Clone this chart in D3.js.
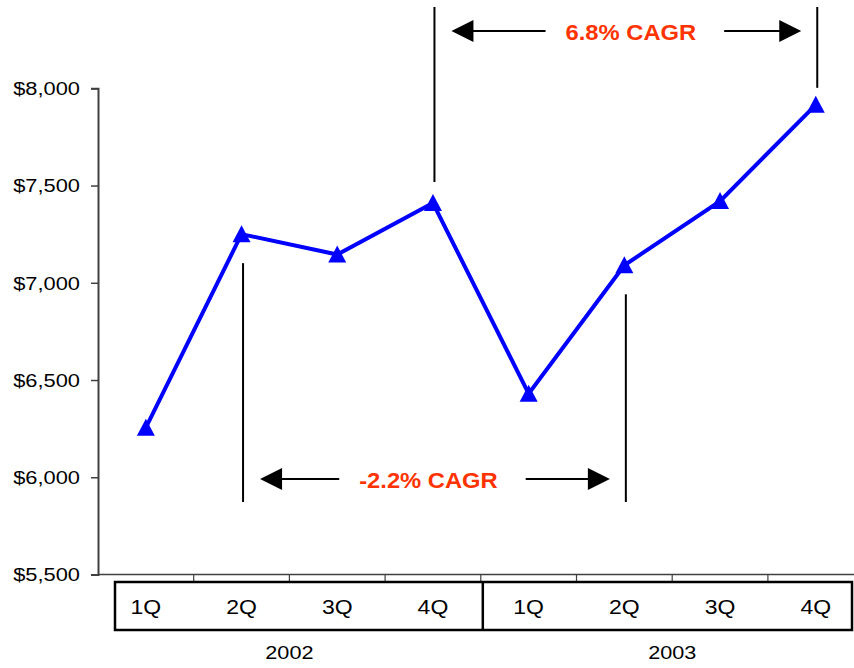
<!DOCTYPE html>
<html>
<head>
<meta charset="utf-8">
<script src="https://cdn.jsdelivr.net/npm/d3@7"></script>
<style>
  html, body { margin: 0; padding: 0; background: #fff; }
  svg { display: block; }
  text { font-family: "Liberation Sans", Arial, Helvetica, sans-serif; }
</style>
</head>
<body>
<svg id="chart" width="854" height="668"></svg>
<script>
// Quarterly revenue, 2002–2003
const quarters = ["1Q", "2Q", "3Q", "4Q", "1Q", "2Q", "3Q", "4Q"];
const years = ["2002", "2003"];
const revenue = [6255, 7250, 7145, 7410, 6430, 7090, 7420, 7915];
const yTicks = [5500, 6000, 6500, 7000, 7500, 8000];

// growth brackets: index of start and end quarter, label, placement
const bracketFrom = [1, 3];
const bracketTo = [5, 7];
const bracketLabels = ["-2.2% CAGR", "6.8% CAGR"];
const bracketSide = ["below", "above"];

const svg = d3.select("#chart");
const SX = 1.15;       // horizontal stretch of the text faces
const left = 98, plotTop = 88.3, plotBottom = 574.5;

const x = d3.scaleBand().domain(d3.range(quarters.length)).range([left, 863.6]).padding(0);
const y = d3.scaleLinear().domain([5500, 8000]).range([plotBottom, plotTop]);
const cx = i => x(i) + x.bandwidth() / 2;

// helper: stretched text anchored at (px, py)
function label(g, px, py, str, opts) {
  const o = Object.assign({ size: 19, anchor: "middle", weight: "normal", fill: "#000", sx: SX }, opts || {});
  const t = g.append("g").attr("transform", `translate(${px},${py}) scale(${o.sx},1)`)
    .append("text")
    .attr("text-anchor", o.anchor)
    .attr("font-size", o.size)
    .attr("font-weight", o.weight)
    .attr("fill", o.fill)
    .text(str);
  return t;
}

// y axis
const yAxis = d3.axisLeft(y).tickValues(yTicks).tickSize(7).tickFormat(() => "");
const ya = svg.append("g").attr("transform", `translate(${left},0)`).call(yAxis);
ya.select(".domain").attr("stroke", "#404040").attr("stroke-width", 2);
ya.selectAll(".tick line").attr("stroke", "#404040").attr("stroke-width", 1.5);
const yLab = svg.append("g");
yTicks.forEach(v => {
  label(yLab, 80, y(v) + 6.8, "$" + d3.format(",")(v), { anchor: "end", size: 19 });
});

// x axis line with ticks at quarter boundaries
const xa = svg.append("g");
xa.append("line").attr("x1", left).attr("x2", 854).attr("y1", plotBottom).attr("y2", plotBottom)
  .attr("stroke", "#404040").attr("stroke-width", 1.5);
d3.range(1, quarters.length).forEach(i => {
  xa.append("line").attr("x1", x(i)).attr("x2", x(i)).attr("y1", plotBottom).attr("y2", plotBottom + 7)
    .attr("stroke", "#404040").attr("stroke-width", 1.2);
});

// quarter box
const box = svg.append("g");
box.append("rect").attr("x", 115).attr("y", 582).attr("width", 737).attr("height", 48)
  .attr("fill", "none").attr("stroke", "#000").attr("stroke-width", 2.5);
box.append("line").attr("x1", x(4) + 2).attr("x2", x(4) + 2).attr("y1", 582).attr("y2", 630)
  .attr("stroke", "#000").attr("stroke-width", 2.5);
quarters.forEach((q, i) => label(box, cx(i), 614, q, { size: 20 }));
years.forEach((yr, k) => label(box, x(k * 4 + 2), 659, yr, { size: 19, sx: 1.14 }));

// revenue line
const line = d3.line().x((d, i) => cx(i)).y(d => y(d));
svg.append("path").datum(revenue).attr("d", line)
  .attr("fill", "none").attr("stroke", "#0000FF").attr("stroke-width", 4).attr("stroke-linejoin", "miter");

// triangle markers
svg.append("g").selectAll("path").data(revenue).join("path")
  .attr("transform", (d, i) => `translate(${cx(i)},${y(d)})`)
  .attr("d", "M0,-9L9,8L-9,8Z")
  .attr("fill", "#0000FF");

// growth brackets
const ann = svg.append("g");
function arrowHead(g, tipX, yy, dir) {
  const len = 22, half = 11;
  g.append("path")
    .attr("d", `M${tipX},${yy}L${tipX - dir * len},${yy - half}L${tipX - dir * len},${yy + half}Z`)
    .attr("fill", "#000");
}
bracketFrom.forEach((a, k) => {
  const b = bracketTo[k];
  const xa0 = cx(a) + 1.5, xb0 = cx(b) + 1.5;
  const below = bracketSide[k] === "below";
  const arrowY = below ? 479 : 31;
  const barEnd = below ? 502 : 7;
  [a, b].forEach((idx, j) => {
    const px = j ? xb0 : xa0;
    const py = y(revenue[idx]);
    const start = below ? py + 29 : py - (idx === 7 ? 17 : 21);
    ann.append("line").attr("x1", px).attr("x2", px).attr("y1", start).attr("y2", barEnd)
      .attr("stroke", "#000").attr("stroke-width", 2);
  });
  const mid = (xa0 + xb0) / 2 + (below ? -6 : 5);
  const t = label(ann, mid, arrowY + 9, bracketLabels[k], { size: 22, weight: "bold", fill: "#FF3300", sx: 1.08 });
  const halfW = t.node().getComputedTextLength() * 1.08 / 2;
  const tipL = xa0 + 17, tipR = xb0 - 16;
  ann.append("line").attr("x1", tipL + 10).attr("x2", mid - halfW - 20).attr("y1", arrowY).attr("y2", arrowY)
    .attr("stroke", "#000").attr("stroke-width", 2);
  ann.append("line").attr("x1", mid + halfW + 28).attr("x2", tipR - 10).attr("y1", arrowY).attr("y2", arrowY)
    .attr("stroke", "#000").attr("stroke-width", 2);
  arrowHead(ann, tipL, arrowY, -1);
  arrowHead(ann, tipR, arrowY, 1);
});
</script>
</body>
</html>
